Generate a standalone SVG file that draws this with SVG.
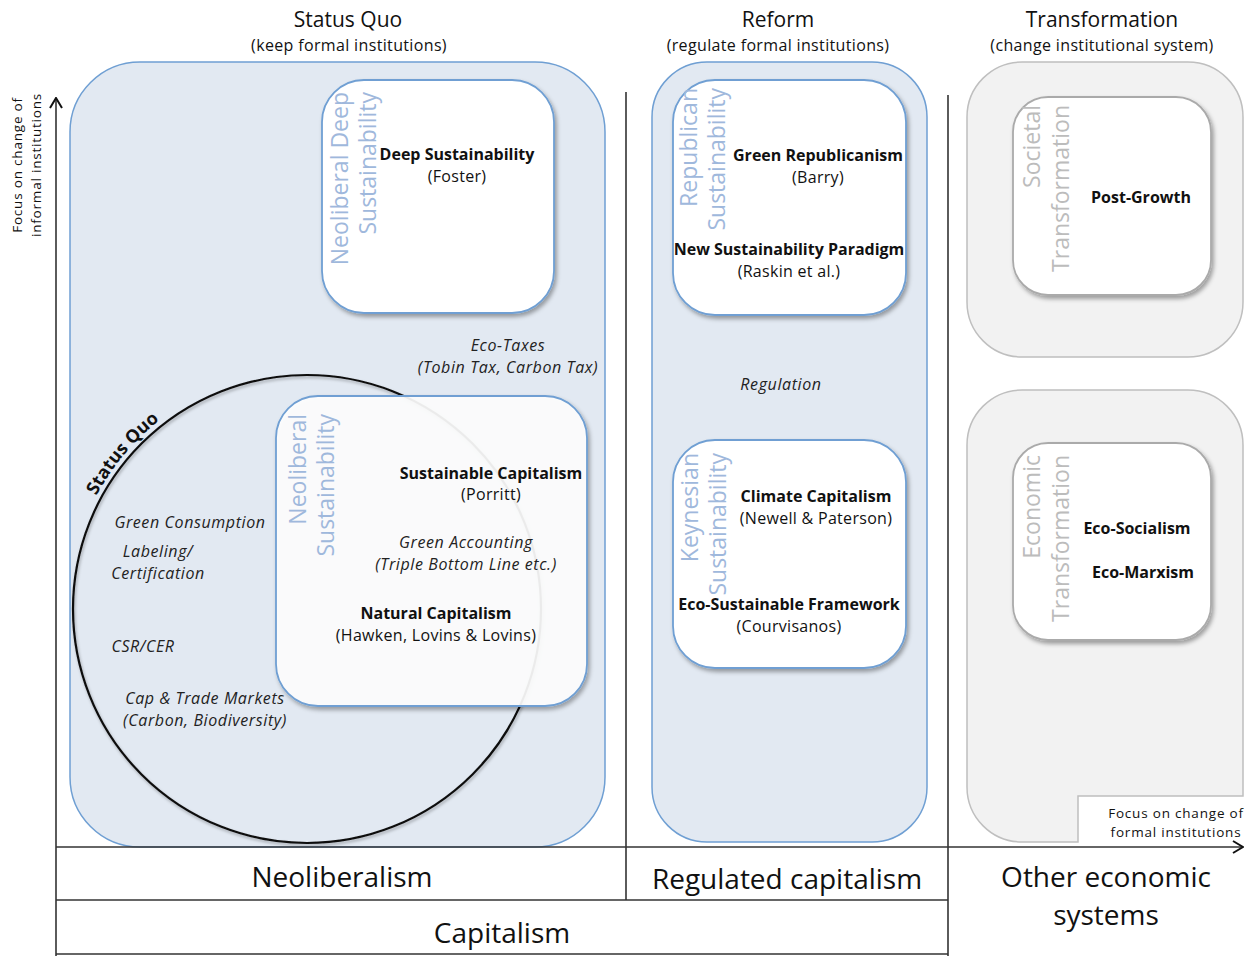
<svg xmlns="http://www.w3.org/2000/svg" width="1254" height="956" viewBox="0 0 1254 956">
<defs>
<filter id="sh" x="-10%" y="-10%" width="130%" height="130%">
<feDropShadow dx="2" dy="3" stdDeviation="2" flood-color="#000" flood-opacity="0.35"/>
</filter>
<filter id="shc" x="-10%" y="-10%" width="130%" height="130%">
<feDropShadow dx="1" dy="2" stdDeviation="1.5" flood-color="#000" flood-opacity="0.3"/>
</filter>
<marker id="chev" viewBox="0 0 12 14" refX="11" refY="7" markerWidth="12" markerHeight="14" markerUnits="userSpaceOnUse" orient="auto">
<path d="M1,1 L11,7 L1,13" fill="none" stroke="#111" stroke-width="2"/>
</marker>
<path id="sqarc" d="M68.6,625.7 A240,240 0 0 1 290.3,369.6"/>
</defs>
<style>
text{font-family:"Open Sans","Liberation Sans",sans-serif;fill:#111}
.h{font-size:21px;text-anchor:middle}
.hs{font-size:16px;letter-spacing:0.35px;text-anchor:middle}
.b{font-size:16px;font-weight:bold;text-anchor:middle}
.r{font-size:16px;letter-spacing:0.3px;text-anchor:middle}
.i{font-size:16px;letter-spacing:0.6px;font-style:italic;text-anchor:middle;fill:#222}
.vb{font-size:23px;fill:#9fb8dc;text-anchor:end}
.vg{font-size:23px;fill:#bcbcbc;text-anchor:end}
.big{font-size:28px;text-anchor:middle}
.ax{font-size:13.5px;letter-spacing:0.8px;text-anchor:middle}
.outer{fill:#e2e9f2;stroke:#6f9fd3;stroke-width:1.5}
.grayo{fill:#f2f2f2;stroke:#bfbfbf;stroke-width:1.5}
.inner{fill:#fff;stroke:#6f9fd3;stroke-width:1.8;filter:url(#sh)}
.innerg{fill:#fff;stroke:#aaaaaa;stroke-width:1.8;filter:url(#sh)}
.ln{stroke:#333;stroke-width:1.6;fill:none}
</style>

<!-- headers -->
<g id="headers">
<text class="h" x="348" y="27">Status Quo</text>
<text class="hs" x="349" y="51">(keep formal institutions)</text>
<text class="h" x="778" y="27">Reform</text>
<text class="hs" x="778" y="51">(regulate formal institutions)</text>
<text class="h" x="1102" y="27">Transformation</text>
<text class="hs" x="1102" y="51">(change institutional system)</text>
</g>

<!-- Status Quo region -->
<g id="status-quo">
<rect class="outer" x="70" y="62" width="535" height="785" rx="70"/>
<text class="i" x="508" y="351">Eco-Taxes</text>
<text class="i" x="508" y="373">(Tobin Tax, Carbon Tax)</text>
</g>

<g id="status-quo-circle">
<circle cx="307" cy="609" r="234" fill="none" stroke="#111" stroke-width="2.2" filter="url(#shc)"/>
<text style="font-size:18px;font-weight:bold"><textPath href="#sqarc" startOffset="49%" text-anchor="middle">Status Quo</textPath></text>
<text class="i" x="190" y="528">Green Consumption</text>
<text class="i" x="158" y="557">Labeling/</text>
<text class="i" x="158" y="579">Certification</text>
<text class="i" x="143" y="652">CSR/CER</text>
<text class="i" x="205" y="704">Cap &amp; Trade Markets</text>
<text class="i" x="205" y="726">(Carbon, Biodiversity)</text>
</g>

<g id="deep-sustainability">
<rect class="inner" x="322" y="80" width="232" height="233" rx="42"/>
<text class="vb" transform="translate(348,92) rotate(-90)">Neoliberal Deep</text>
<text class="vb" transform="translate(376,92) rotate(-90)">Sustainability</text>
<text class="b" x="457" y="160">Deep Sustainability</text>
<text class="r" x="457" y="182">(Foster)</text>
</g>

<g id="neoliberal-sustainability">
<rect class="inner" x="276" y="396" width="311" height="310" rx="42" style="fill-opacity:0.9"/>
<text class="vb" transform="translate(306,414) rotate(-90)">Neoliberal</text>
<text class="vb" transform="translate(334,414) rotate(-90)">Sustainability</text>
<text class="b" x="491" y="479">Sustainable Capitalism</text>
<text class="r" x="491" y="500">(Porritt)</text>
<text class="i" x="466" y="548">Green Accounting</text>
<text class="i" x="466" y="570">(Triple Bottom Line etc.)</text>
<text class="b" x="436" y="619">Natural Capitalism</text>
<text class="r" x="436" y="641">(Hawken, Lovins &amp; Lovins)</text>
</g>

<!-- Reform region -->
<g id="reform">
<rect class="outer" x="652" y="62" width="275" height="780" rx="55"/>
<text class="i" x="781" y="390">Regulation</text>
</g>

<g id="republican-sustainability">
<rect class="inner" x="673" y="80" width="233" height="235" rx="42"/>
<text class="vb" transform="translate(697,88) rotate(-90)">Republican</text>
<text class="vb" transform="translate(725,88) rotate(-90)">Sustainability</text>
<text class="b" x="818" y="161">Green Republicanism</text>
<text class="r" x="818" y="183">(Barry)</text>
<text class="b" x="789" y="255">New Sustainability Paradigm</text>
<text class="r" x="789" y="277">(Raskin et al.)</text>
</g>

<g id="keynesian-sustainability">
<rect class="inner" x="673" y="440" width="233" height="228" rx="42"/>
<text class="vb" transform="translate(698,453) rotate(-90)">Keynesian</text>
<text class="vb" transform="translate(726,453) rotate(-90)">Sustainability</text>
<text class="b" x="816" y="502">Climate Capitalism</text>
<text class="r" x="816" y="524">(Newell &amp; Paterson)</text>
<text class="b" x="789" y="610">Eco-Sustainable Framework</text>
<text class="r" x="789" y="632">(Courvisanos)</text>
</g>

<!-- Transformation region -->
<g id="transformation-societal">
<rect class="grayo" x="967" y="62" width="276" height="295" rx="55"/>
<rect class="innerg" x="1013" y="97" width="198" height="198" rx="35"/>
<text class="vg" transform="translate(1040,105) rotate(-90)">Societal</text>
<text class="vg" transform="translate(1069,105) rotate(-90)">Transformation</text>
<text class="b" x="1141" y="203">Post-Growth</text>
</g>

<g id="transformation-economic">
<path class="grayo" d="M1022,390 H1188 A55,55 0 0 1 1243,445 V796 H1078 V842 H1022 A55,55 0 0 1 967,787 V445 A55,55 0 0 1 1022,390 Z"/>
<rect class="innerg" x="1013" y="443" width="198" height="197" rx="35"/>
<text class="vg" transform="translate(1040,455) rotate(-90)">Economic</text>
<text class="vg" transform="translate(1069,455) rotate(-90)">Transformation</text>
<text class="b" x="1137" y="534">Eco-Socialism</text>
<text class="b" x="1143" y="578">Eco-Marxism</text>
</g>

<!-- table and separators -->
<g id="table">
<line class="ln" x1="626" y1="92" x2="626" y2="900"/>
<line class="ln" x1="948" y1="95" x2="948" y2="956"/>
<line class="ln" x1="56" y1="900" x2="948" y2="900"/>
<line class="ln" x1="56" y1="954" x2="948" y2="954"/>
<text class="big" x="342" y="887">Neoliberalism</text>
<text class="big" x="787" y="889">Regulated capitalism</text>
<text class="big" x="502" y="943">Capitalism</text>
<text class="big" x="1106" y="887">Other economic</text>
<text class="big" x="1106" y="925">systems</text>
</g>

<!-- axes -->
<g id="connectors">
<line class="ln" x1="56" y1="956" x2="56" y2="98" marker-end="url(#chev)"/>
<line class="ln" x1="56" y1="847" x2="1243" y2="847" marker-end="url(#chev)"/>
</g>
<g id="axis-labels">
<text class="ax" transform="translate(22,165) rotate(-90)">Focus on change of</text>
<text class="ax" transform="translate(41,165) rotate(-90)">informal institutions</text>
<text class="ax" x="1176" y="818">Focus on change of</text>
<text class="ax" x="1176" y="837">formal institutions</text>
</g>
</svg>
